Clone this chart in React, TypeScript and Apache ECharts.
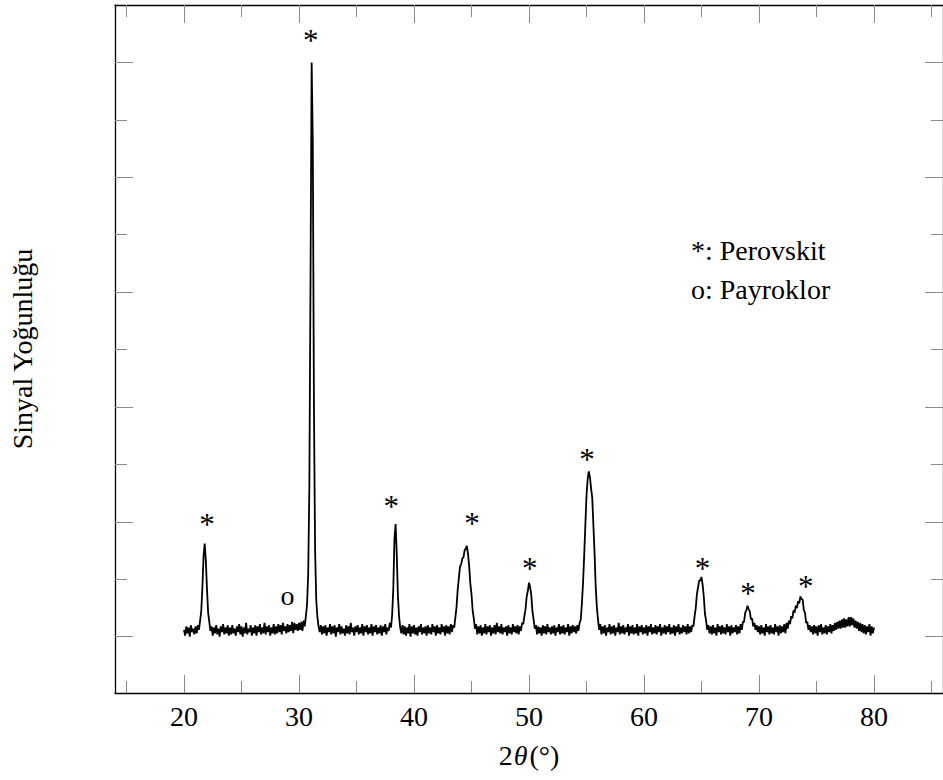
import React, { useEffect, useRef } from "react";
import * as echarts from "echarts";

// 2θ sampling grid (degrees)
const twoThetaStart = 20;
const twoThetaStep = 0.1;

// Signal intensity (arbitrary units), one row per degree (x.0 .. x.9)
const intensity: number[] = [
  // 20
  0.06, 0.01, 0.09, 0.03, 0.08, 0.00, 0.10, 0.04, 0.07, 0.02,
  // 21
  0.09, 0.03, 0.10, 0.06, 0.14, 0.22, 0.43, 0.70, 0.81, 0.66,
  // 22
  0.41, 0.21, 0.13, 0.05, 0.09, 0.01, 0.08, 0.03, 0.10, 0.02,
  // 23
  0.07, 0.00, 0.09, 0.04, 0.11, 0.02, 0.08, 0.03, 0.10, 0.01,
  // 24
  0.08, 0.02, 0.10, 0.03, 0.07, 0.01, 0.09, 0.04, 0.11, 0.02,
  // 25
  0.09, 0.00, 0.08, 0.03, 0.12, 0.02, 0.07, 0.04, 0.10, 0.01,
  // 26
  0.08, 0.03, 0.10, 0.01, 0.09, 0.04, 0.11, 0.02, 0.08, 0.03,
  // 27
  0.12, 0.02, 0.09, 0.04, 0.10, 0.01, 0.08, 0.03, 0.11, 0.02,
  // 28
  0.09, 0.03, 0.11, 0.04, 0.10, 0.02, 0.12, 0.05, 0.09, 0.03,
  // 29
  0.11, 0.04, 0.10, 0.05, 0.13, 0.03, 0.12, 0.06, 0.11, 0.05,
  // 30
  0.12, 0.06, 0.13, 0.05, 0.14, 0.09, 0.18, 0.28, 0.55, 1.30,
  // 31
  3.10, 5.00, 4.30, 2.00, 0.75, 0.32, 0.17, 0.09, 0.04, 0.10,
  // 32
  0.02, 0.09, 0.03, 0.10, 0.01, 0.08, 0.04, 0.11, 0.02, 0.09,
  // 33
  0.03, 0.10, 0.00, 0.08, 0.04, 0.11, 0.02, 0.09, 0.03, 0.07,
  // 34
  0.01, 0.10, 0.03, 0.09, 0.02, 0.12, 0.04, 0.08, 0.01, 0.09,
  // 35
  0.04, 0.10, 0.02, 0.08, 0.03, 0.11, 0.01, 0.09, 0.04, 0.10,
  // 36
  0.02, 0.08, 0.03, 0.11, 0.01, 0.09, 0.04, 0.10, 0.02, 0.08,
  // 37
  0.03, 0.10, 0.01, 0.09, 0.04, 0.11, 0.02, 0.08, 0.05, 0.12,
  // 38
  0.08, 0.19, 0.42, 0.85, 0.98, 0.72, 0.36, 0.18, 0.08, 0.03,
  // 39
  0.10, 0.02, 0.09, 0.01, 0.08, 0.03, 0.11, 0.00, 0.09, 0.03,
  // 40
  0.10, 0.02, 0.08, 0.01, 0.09, 0.04, 0.11, 0.02, 0.08, 0.03,
  // 41
  0.09, 0.01, 0.10, 0.03, 0.08, 0.02, 0.11, 0.04, 0.09, 0.01,
  // 42
  0.10, 0.03, 0.08, 0.02, 0.11, 0.04, 0.09, 0.01, 0.10, 0.03,
  // 43
  0.09, 0.02, 0.11, 0.04, 0.10, 0.08, 0.17, 0.26, 0.41, 0.51,
  // 44
  0.61, 0.63, 0.68, 0.69, 0.75, 0.77, 0.79, 0.72, 0.61, 0.46,
  // 45
  0.37, 0.23, 0.16, 0.07, 0.11, 0.02, 0.09, 0.03, 0.10, 0.01,
  // 46
  0.08, 0.03, 0.11, 0.02, 0.09, 0.04, 0.10, 0.01, 0.08, 0.03,
  // 47
  0.10, 0.02, 0.12, 0.04, 0.09, 0.03, 0.11, 0.02, 0.08, 0.04,
  // 48
  0.09, 0.01, 0.10, 0.03, 0.08, 0.02, 0.11, 0.04, 0.09, 0.03,
  // 49
  0.10, 0.02, 0.09, 0.05, 0.12, 0.11, 0.18, 0.24, 0.35, 0.40,
  // 50
  0.47, 0.43, 0.36, 0.22, 0.15, 0.07, 0.10, 0.02, 0.09, 0.03,
  // 51
  0.08, 0.01, 0.10, 0.03, 0.09, 0.02, 0.11, 0.04, 0.08, 0.02,
  // 52
  0.09, 0.03, 0.10, 0.01, 0.08, 0.04, 0.11, 0.02, 0.09, 0.03,
  // 53
  0.10, 0.02, 0.08, 0.04, 0.11, 0.01, 0.09, 0.03, 0.10, 0.04,
  // 54
  0.09, 0.03, 0.10, 0.05, 0.12, 0.15, 0.29, 0.47, 0.71, 0.97,
  // 55
  1.23, 1.37, 1.44, 1.39, 1.29, 1.21, 0.97, 0.73, 0.44, 0.26,
  // 56
  0.15, 0.06, 0.11, 0.02, 0.09, 0.03, 0.10, 0.01, 0.08, 0.04,
  // 57
  0.11, 0.02, 0.09, 0.03, 0.10, 0.01, 0.08, 0.04, 0.12, 0.02,
  // 58
  0.09, 0.03, 0.10, 0.02, 0.08, 0.04, 0.11, 0.01, 0.09, 0.03,
  // 59
  0.10, 0.02, 0.08, 0.03, 0.11, 0.01, 0.09, 0.04, 0.10, 0.02,
  // 60
  0.08, 0.03, 0.10, 0.01, 0.09, 0.04, 0.11, 0.02, 0.08, 0.03,
  // 61
  0.10, 0.02, 0.09, 0.04, 0.11, 0.01, 0.08, 0.03, 0.10, 0.02,
  // 62
  0.09, 0.04, 0.11, 0.02, 0.08, 0.03, 0.10, 0.01, 0.09, 0.04,
  // 63
  0.11, 0.02, 0.08, 0.03, 0.10, 0.04, 0.09, 0.02, 0.11, 0.03,
  // 64
  0.09, 0.04, 0.10, 0.09, 0.18, 0.25, 0.37, 0.43, 0.49, 0.49,
  // 65
  0.52, 0.45, 0.35, 0.20, 0.14, 0.06, 0.10, 0.03, 0.09, 0.02,
  // 66
  0.10, 0.03, 0.08, 0.01, 0.11, 0.04, 0.09, 0.02, 0.10, 0.03,
  // 67
  0.08, 0.02, 0.11, 0.04, 0.09, 0.01, 0.10, 0.03, 0.08, 0.04,
  // 68
  0.10, 0.02, 0.09, 0.03, 0.11, 0.06, 0.13, 0.13, 0.21, 0.23,
  // 69
  0.27, 0.24, 0.22, 0.15, 0.16, 0.09, 0.12, 0.06, 0.10, 0.04,
  // 70
  0.09, 0.02, 0.10, 0.03, 0.08, 0.01, 0.11, 0.04, 0.09, 0.02,
  // 71
  0.10, 0.03, 0.08, 0.02, 0.11, 0.04, 0.09, 0.01, 0.10, 0.03,
  // 72
  0.09, 0.04, 0.11, 0.03, 0.12, 0.07, 0.14, 0.11, 0.18, 0.16,
  // 73
  0.23, 0.21, 0.27, 0.25, 0.31, 0.29, 0.35, 0.33, 0.32, 0.23,
  // 74
  0.21, 0.12, 0.13, 0.06, 0.10, 0.04, 0.09, 0.02, 0.10, 0.03,
  // 75
  0.09, 0.01, 0.10, 0.04, 0.11, 0.02, 0.08, 0.03, 0.10, 0.02,
  // 76
  0.09, 0.04, 0.11, 0.03, 0.10, 0.05, 0.12, 0.06, 0.13, 0.07,
  // 77
  0.14, 0.07, 0.15, 0.08, 0.16, 0.08, 0.15, 0.09, 0.17, 0.09,
  // 78
  0.17, 0.10, 0.16, 0.08, 0.14, 0.07, 0.13, 0.05, 0.12, 0.04,
  // 79
  0.11, 0.03, 0.10, 0.02, 0.09, 0.04, 0.11, 0.01, 0.09, 0.03,
  // 80
  0.08,
];

// Phase markers above the peaks
const markX = [22.0, 29.0, 31.03, 38.03, 45.04, 50.06, 55.04, 65.08, 69.04, 74.06];
const markY = [0.98, 0.36, 5.19, 1.13, 0.99, 0.59, 1.54, 0.59, 0.38, 0.44];
const markText = ["*", "o", "*", "*", "*", "*", "*", "*", "*", "*"];

// Axis ticks and labels
const xMajor = [20, 30, 40, 50, 60, 70, 80];
const xMinor = [15, 25, 35, 45, 55, 65, 75, 85];
const yMajor = [0, 1, 2, 3, 4, 5];
const yMinor = [0.5, 1.5, 2.5, 3.5, 4.5];

const legendLines = ["*: Perovskit", "o: Payroklor"];
const yTitle = "Sinyal Yoğunluğu";

const FONT = "'Liberation Serif', 'Times New Roman', serif";
const FS = 28;
const X_MIN = 14;
const X_MAX = 86;
const Y_MIN = -0.49;
const Y_MAX = 5.5;

export default function App() {
  const ref = useRef<HTMLDivElement>(null);

  useEffect(() => {
    if (!ref.current) return;
    const chart = echarts.init(ref.current, undefined, { renderer: "svg" });

    const lineData = intensity.map((v, i) => [
      Number((twoThetaStart + i * twoThetaStep).toFixed(1)),
      v,
    ]);

    const tickStyle = { color: "#8a8a8a", width: 1 };
    const frame = { show: true, onZero: false, lineStyle: { color: "#000", width: 1.3 } };

    const mkX = (pos: "top" | "bottom", ticks: number[], len: number, labels: boolean, line: boolean) => ({
      type: "value",
      gridIndex: 0,
      position: pos,
      min: X_MIN,
      max: X_MAX,
      axisLine: line ? frame : { show: false, onZero: false },
      axisTick: { show: true, inside: true, length: len, customValues: ticks, lineStyle: tickStyle },
      axisLabel: labels
        ? {
            show: true,
            customValues: ticks,
            margin: 9,
            color: "#000",
            fontFamily: FONT,
            fontSize: FS,
          }
        : { show: false },
      splitLine: { show: false },
      minorTick: { show: false },
    });
    const mkY = (pos: "left" | "right", ticks: number[], len: number, line: boolean) => ({
      type: "value",
      gridIndex: 0,
      position: pos,
      min: Y_MIN,
      max: Y_MAX,
      axisLine: line ? frame : { show: false, onZero: false },
      axisTick: { show: true, inside: true, length: len, customValues: ticks, lineStyle: tickStyle },
      axisLabel: { show: false },
      splitLine: { show: false },
    });

    const xAxes: any[] = [
      mkX("bottom", xMajor, 18, true, true),
      mkX("bottom", xMinor, 12, false, false),
      mkX("top", xMajor, 18, false, true),
      mkX("top", xMinor, 12, false, false),
    ];
    xAxes[0].name = "{n|2}{t|θ}{n|(°)}";
    xAxes[0].nameLocation = "middle";
    xAxes[0].nameGap = 48;
    xAxes[0].nameTextStyle = {
      rich: {
        n: { fontFamily: FONT, fontSize: FS, color: "#000" },
        t: { fontFamily: FONT, fontSize: FS, fontStyle: "italic", color: "#000", padding: [0, 2, 0, 1] },
      },
    };

    const yAxes: any[] = [
      mkY("left", yMajor, 18, true),
      mkY("left", yMinor, 12, false),
      mkY("right", yMajor, 18, true),
      mkY("right", yMinor, 12, false),
    ];
    yAxes[0].name = yTitle;
    yAxes[0].nameLocation = "middle";
    yAxes[0].nameRotate = 90;
    yAxes[0].nameGap = 79;
    yAxes[0].nameTextStyle = { fontFamily: FONT, fontSize: FS, color: "#000" };

    const legendGraphics = legendLines.map((t, i) => ({
      type: "text",
      x: 691,
      y: 250 + i * 39,
      style: {
        text: t,
        fontFamily: FONT,
        fontSize: FS,
        fill: "#000",
        textAlign: "left",
        textVerticalAlign: "middle",
      },
    }));

    chart.setOption({
      animation: false,
      backgroundColor: "#fff",
      grid: { left: 115, top: 5, width: 828, height: 688, containLabel: false },
      xAxis: xAxes,
      yAxis: yAxes,
      series: [
        {
          type: "line",
          xAxisIndex: 0,
          yAxisIndex: 0,
          data: lineData,
          showSymbol: false,
          symbol: "none",
          lineStyle: { color: "#000", width: 1.8 },
          z: 3,
        },
      ],
      graphic: legendGraphics,
    });

    // Phase markers placed through the chart's own axis scales
    const markGraphics = markX.map((x, i) => {
      const p = chart.convertToPixel({ xAxisIndex: 0, yAxisIndex: 0 }, [x, markY[i]]) as number[];
      return {
        type: "text",
        x: p[0],
        y: p[1],
        z: 10,
        style: {
          text: markText[i],
          fontFamily: FONT,
          fontSize: markText[i] === "*" ? 31 : FS,
          fill: "#000",
          textAlign: "center",
          textVerticalAlign: "middle",
        },
      };
    });
    chart.setOption({ graphic: [...legendGraphics, ...markGraphics] });

    return () => chart.dispose();
  }, []);

  return (
    <div
      ref={ref}
      style={{ position: "fixed", left: 0, top: 0, width: 943, height: 780, background: "#fff" }}
    />
  );
}
